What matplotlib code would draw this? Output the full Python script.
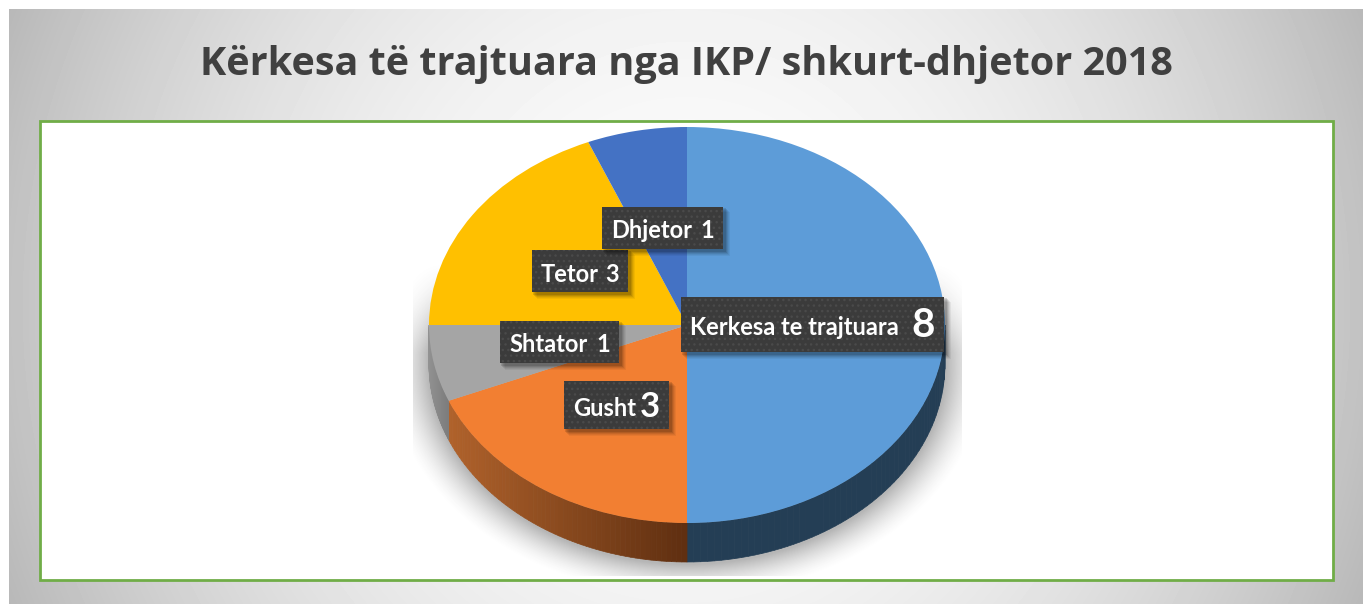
import numpy as np
import matplotlib
matplotlib.use("Agg")
import matplotlib.pyplot as plt
from matplotlib.colors import to_rgb
from matplotlib.patches import Rectangle

W, H = 1363, 604

# Data
title = "Kërkesa të trajtuara nga IKP/ shkurt-dhjetor 2018"
names = ["Kerkesa te trajtuara", "Gusht", "Shtator", "Tetor", "Dhjetor"]
values = [8, 3, 1, 3, 1]
colors = ["#5D9CD8", "#F27F32", "#A5A5A5", "#FFC000", "#4472C4"]

# wall colours (left end, right end of each slice)
wall_left = ["#243E55", "#B0622B", "#929292", "#000000", "#000000"]
wall_right = ["#243E55", "#5E2E10", "#7C7C7C", "#000000", "#000000"]

# label boxes: x0, y0, x1, y1 in pixels, size of name, size of value
boxes = [(681, 297, 944, 352, 17, 29),
         (564, 381, 669, 429, 17, 25),
         (500, 321, 619, 363, 17, 17),
         (532, 250, 628, 292, 17, 17),
         (602, 207, 723, 249, 17, 17)]

cx, cy, rx, ry, depth = 687, 325, 258, 198, 39

plt.rcParams["font.family"] = ["Open Sans", "DejaVu Sans"]
fig = plt.figure(figsize=(W / 100, H / 100), dpi=100)

# Background axes in pixel coordinates
bg = fig.add_axes([0, 0, 1, 1])
bg.axis("off")

xx, yy = np.meshgrid(np.arange(9, W), np.arange(9, H))
dx = (xx - 686) / 677
dy = (yy - 306) / 297
grey = (252 - 58 * dx ** 2 - 10 * dy ** 2) / 255
bg.imshow(grey, cmap="gray", vmin=0, vmax=1, extent=(9, W, H, 9), aspect="auto", zorder=1)

bg.add_patch(Rectangle((39.5, 120.5), 1293, 459, facecolor="white", edgecolor="#70AD47", linewidth=2, zorder=2))
bg.text(686, 64, title, ha="center", va="center", fontsize=28.5, fontweight="bold", color="#404040", zorder=3)

# Soft shadow under the pie, cut off at a box like the reference
sx, sy = np.meshgrid(np.arange(413, 962), np.arange(250, 576))
dist = np.sqrt(((sx - cx) / (rx + 6)) ** 2 + ((sy - (cy + depth)) / (ry + 6)) ** 2)
alpha = np.clip((1.14 - dist) / 0.16, 0, 1) ** 1.6 * 0.38
alpha = alpha * np.clip((sy - 262) / 90, 0, 1)
shadow = np.zeros(sx.shape + (4,))
shadow[..., :3] = 0.25
shadow[..., 3] = alpha
bg.imshow(shadow, extent=(413, 962, 576, 250), aspect="auto", zorder=3)
bg.set_xlim(0, W)
bg.set_ylim(H, 0)

# Pie axes cover the top ellipse exactly, the aspect is squashed
ax = fig.add_axes([(cx - rx) / W, 1 - (cy + ry) / H, 2 * rx / W, 2 * ry / H], zorder=2)
wedges, _ = ax.pie(values, colors=colors, startangle=90, counterclock=False, radius=1)

# Side wall of the pie, built from the slice angles
d = depth / ry
for wedge, left, right in zip(wedges, wall_left, wall_right):
    shift = 360 if wedge.theta1 < 0 else 0
    t1 = max(wedge.theta1 + shift, 180)
    t2 = min(wedge.theta2 + shift, 360)
    if t2 <= t1:
        continue
    angles = np.radians(np.linspace(t1, t2, 60))
    x_min, x_max = np.cos(angles).min(), np.cos(angles).max()
    for a, b in zip(angles[:-1], angles[1:]):
        f = (np.cos(a) - x_min) / (x_max - x_min)
        c = (1 - f) * np.array(to_rgb(left)) + f * np.array(to_rgb(right))
        xs = [np.cos(a), np.cos(b), np.cos(b), np.cos(a)]
        ys = [np.sin(a), np.sin(b), np.sin(b) - d, np.sin(a) - d]
        ax.fill(xs, ys, color=c, linewidth=0.5, clip_on=False, zorder=0)

ax.set_aspect("auto")
ax.set_xlim(-1, 1)
ax.set_ylim(-1, 1)

# Labels on top, pixel coordinates again
top = fig.add_axes([0, 0, 1, 1], zorder=3)
top.set_xlim(0, W)
top.set_ylim(H, 0)
top.axis("off")
plt.rcParams["hatch.linewidth"] = 1.0
for name, value, (x0, y0, x1, y1, s1, s2) in zip(names, values, boxes):
    for off, a in [(7, 0.05), (6, 0.06), (5, 0.08), (4, 0.1), (3, 0.12)]:
        top.add_patch(Rectangle((x0 + off - 2, y0 + off - 2), x1 - x0 + 2, y1 - y0 + 2,
                                facecolor="black", edgecolor="none", alpha=a))
    top.add_patch(Rectangle((x0, y0), x1 - x0, y1 - y0, facecolor="#3B3B3B", edgecolor="#4A4A4A",
                            hatch="...", linewidth=0))
    ym = (y0 + y1) / 2 + 3
    top.text(x0 + 9, ym, name, ha="left", va="center", fontsize=s1, fontweight="bold", color="white",
             family=["Lato", "DejaVu Sans"])
    top.text(x1 - 9, ym - (s2 - s1) * 0.15, str(value), ha="right", va="center", fontsize=s2,
             fontweight="bold", color="white", family=["Lato", "DejaVu Sans"])

fig.savefig("out.png", dpi=100)
